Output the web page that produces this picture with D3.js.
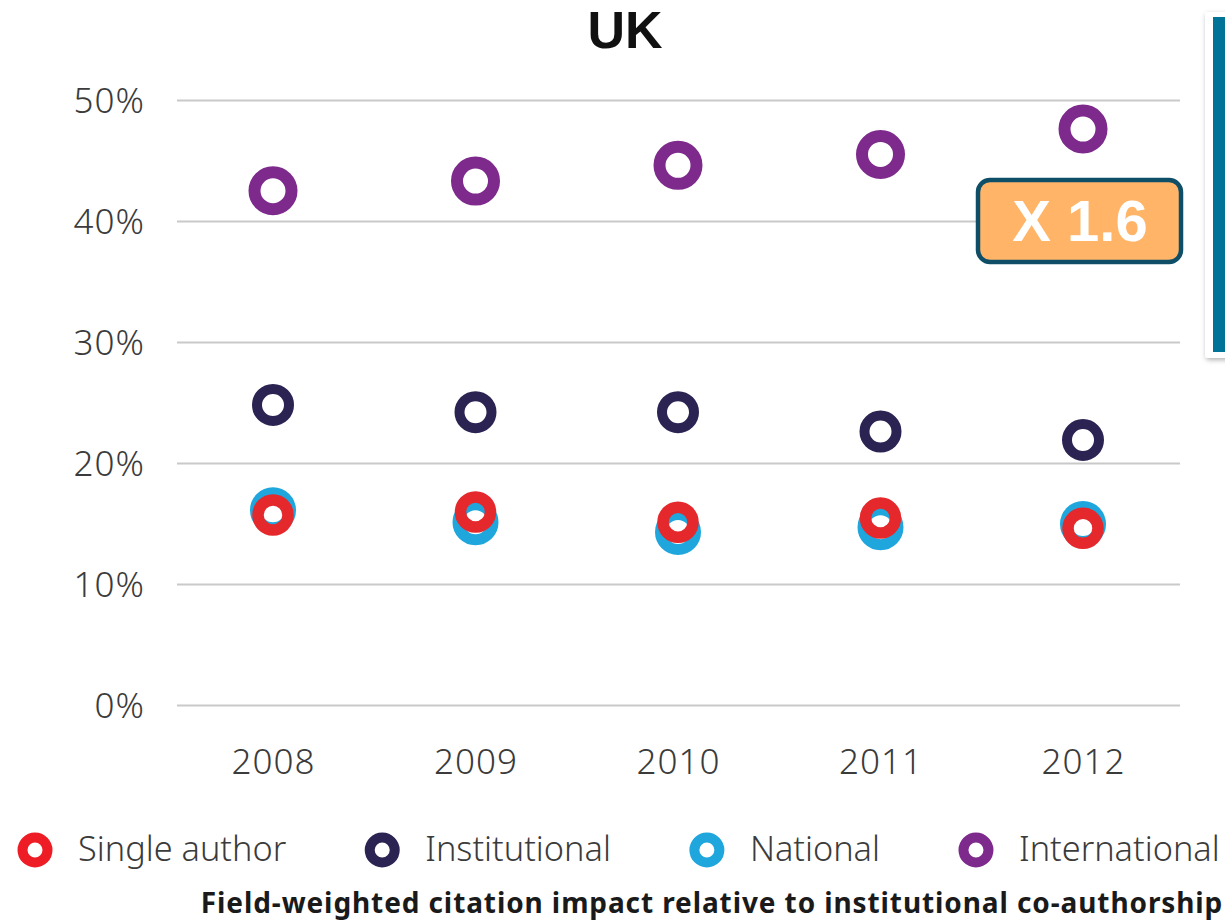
<!DOCTYPE html>
<html>
<head>
<meta charset="utf-8">
<script src="https://cdn.jsdelivr.net/npm/d3@7"></script>
<style>
  body { margin: 0; background: #fff; }
  svg { display: block; font-family: "Noto Sans", sans-serif; }
  .grid line { stroke: #c9c9c9; stroke-width: 2; }
  .grid text, .years text { font-family: "Noto Sans", sans-serif; fill: #3b3b3b; font-size: 35px; font-weight: 300; letter-spacing: 1px; }
  .legend text { fill: #3b3b3b; font-size: 34.3px; font-weight: 300; }
</style>
</head>
<body>
<div id="chart"></div>
<script>
const years = [2008, 2009, 2010, 2011, 2012]
const seriesNames = ['Single author', 'Institutional', 'National', 'International']
const seriesColors = ['#e5282c', '#2b2452', '#1fa6dd', '#7d2a8c']
const singleAuthor = [15.7, 15.95, 15.1, 15.45, 14.6]
const institutional = [24.8, 24.2, 24.2, 22.6, 21.9]
const national = [16.1, 15.1, 14.3, 14.7, 14.95]
const international = [42.5, 43.3, 44.6, 45.5, 47.6]
const yTicks = [0, 10, 20, 30, 40, 50]
const badgeText = 'X 1.6'
const captionText = 'Field-weighted citation impact relative to institutional co-authorship'

const width = 1225, height = 921
const gridLeft = 177, gridRight = 1180

const svg = d3.select('#chart').append('svg')
    .attr('width', width)
    .attr('height', height)

const x = d3.scalePoint()
    .domain(years)
    .range([273, 1083])

const y = d3.scaleLinear()
    .domain([0, 50])
    .range([705, 100])

// title
svg.append('text')
    .attr('x', 625)
    .attr('y', 48)
    .attr('text-anchor', 'middle')
    .style('font-family', '"Liberation Sans", Arial, sans-serif')
    .style('font-size', '52px')
    .style('font-weight', 700)
    .style('fill', '#111')
    .text('UK')

// gridlines + y labels
svg.append('g')
    .attr('class', 'grid')
    .attr('transform', `translate(${gridLeft},0)`)
    .call(d3.axisLeft(y).tickValues(yTicks).tickSize(-(gridRight - gridLeft)).tickPadding(32).tickFormat(d => d + '%'))
    .call(g => g.select('.domain').remove())
    .call(g => g.selectAll('text').attr('dy', '0.36em'))

// year labels
svg.append('g')
    .attr('class', 'years')
    .attr('transform', `translate(0,${y(0)})`)
    .call(d3.axisBottom(x).tickSize(0).tickPadding(44))
    .call(g => g.select('.domain').remove())

const series = [
    { values: international, color: seriesColors[3], r: 18.5, sw: 12 },
    { values: institutional, color: seriesColors[1], r: 16, sw: 10 },
    { values: national, color: seriesColors[2], r: 17.5, sw: 11 },
    { values: singleAuthor, color: seriesColors[0], r: 15, sw: 11.5 }
]

series.forEach(s => {
    svg.append('g')
        .selectAll('circle')
        .data(years.map((yr, i) => ({ yr, v: s.values[i] })))
        .join('circle')
        .attr('cx', d => x(d.yr))
        .attr('cy', d => y(d.v))
        .attr('r', s.r)
        .attr('fill', 'none')
        .attr('stroke', s.color)
        .attr('stroke-width', s.sw)
})

// right side panel
const defs = svg.append('defs')
defs.append('filter').attr('id', 'shadow')
    .attr('x', '-50%').attr('y', '-5%').attr('width', '200%').attr('height', '110%')
    .append('feDropShadow')
    .attr('dx', 1).attr('dy', 2).attr('stdDeviation', 2.5)
    .attr('flood-color', '#000').attr('flood-opacity', 0.3)

svg.append('rect')
    .attr('x', 1205).attr('y', 12)
    .attr('width', 40).attr('height', 346)
    .attr('rx', 3)
    .attr('fill', '#fff')
    .attr('filter', 'url(#shadow)')

svg.append('rect')
    .attr('x', 1213).attr('y', 17)
    .attr('width', 20).attr('height', 335)
    .attr('fill', '#007399')

// badge
svg.append('rect')
    .attr('x', 978).attr('y', 180)
    .attr('width', 203).attr('height', 82)
    .attr('rx', 12)
    .attr('fill', '#ffb468')
    .attr('stroke', '#0e4f67')
    .attr('stroke-width', 4.5)

svg.append('text')
    .attr('x', 1080).attr('y', 241)
    .attr('text-anchor', 'middle')
    .style('font-family', '"Liberation Sans", Arial, sans-serif')
    .style('font-size', '58px')
    .style('font-weight', 700)
    .style('fill', '#fff')
    .text(badgeText)

// legend
const legend = svg.append('g').attr('class', 'legend')
let lx = 35
seriesNames.forEach((name, i) => {
    legend.append('circle')
        .attr('cx', lx).attr('cy', 850)
        .attr('r', 12.5)
        .attr('fill', 'none')
        .attr('stroke', i === 0 ? '#ee1c25' : seriesColors[i])
        .attr('stroke-width', 10)
    const t = legend.append('text')
        .attr('x', lx + 43).attr('y', 861)
        .text(name)
    lx += 43 + t.node().getComputedTextLength() + 96
})

// caption
svg.append('text')
    .attr('x', 712).attr('y', 913)
    .attr('text-anchor', 'middle')
    .style('font-size', '28px')
    .style('font-weight', 700)
    .style('letter-spacing', '0.9px')
    .style('fill', '#1a1a1a')
    .text(captionText)
</script>
</body>
</html>
